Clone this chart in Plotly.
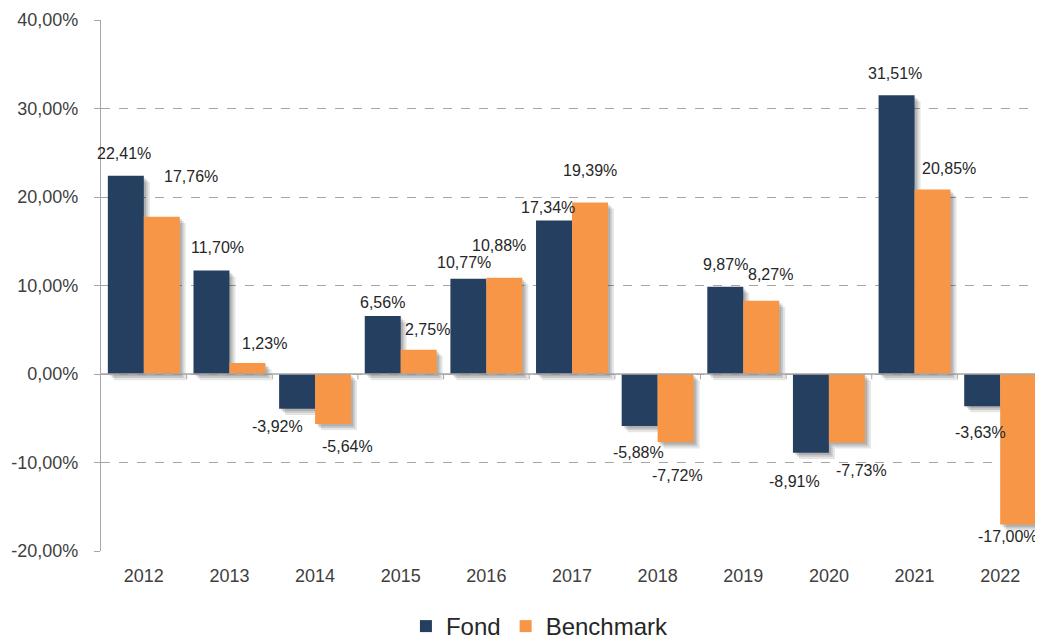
import plotly.graph_objects as go

years = ["2012", "2013", "2014", "2015", "2016", "2017", "2018", "2019", "2020", "2021", "2022"]
fond = [22.41, 11.70, -3.92, 6.56, 10.77, 17.34, -5.88, 9.87, -8.91, 31.51, -3.63]
bench = [17.76, 1.23, -5.64, 2.75, 10.88, 19.39, -7.72, 8.27, -7.73, 20.85, -17.00]
y_ticks = [-20, -10, 0, 10, 20, 30, 40]

# label pixel offsets (dx right, dy down relative to bar end)
fond_dx = [-2, 6, -20, 0, -4, -6, -1, 0, -16, -2, -2]
fond_dy = [-22, -23, 18, -13, -16, -13, 26, -22, 29, -22, 26]
bench_dx = [29, 17, 14, 9, -5, 0, 2, 9, 15, 16, -10]
bench_dy = [-40, -20, 23, -20, -32, -32, 33, -26, 28, -21, 12]

NAVY = "#243F60"
ORANGE = "#F79646"
FONT = "Liberation Sans, Arial, sans-serif"
xs = list(range(len(years)))
W = 0.42

def fmt(v):
    return f"{v:.2f}".replace(".", ",") + "%"

fig = go.Figure()

# soft shadows
for dxu, dyu, a in [(0.07, 0.7, 0.10), (0.045, 0.45, 0.12), (0.025, 0.25, 0.12)]:
    for vals, off in [(fond, -W), (bench, 0.0)]:
        fig.add_trace(go.Bar(
            x=xs, y=vals, base=[-dyu] * len(xs), offset=off + dxu, width=W,
            marker=dict(color=f"rgba(0,0,0,{a})", line=dict(width=0)),
            showlegend=False, hoverinfo="skip"))

fig.add_trace(go.Bar(x=xs, y=fond, name="Fond", offset=-W, width=W,
                     marker=dict(color=NAVY, line=dict(width=0))))
fig.add_trace(go.Bar(x=xs, y=bench, name="Benchmark", offset=0.0, width=W,
                     marker=dict(color=ORANGE, line=dict(width=0))))

annotations = []
for vals, cx, dxs, dys in [(fond, -W / 2, fond_dx, fond_dy), (bench, W / 2, bench_dx, bench_dy)]:
    for i, v in enumerate(vals):
        annotations.append(dict(
            x=i + cx, y=v, xref="x", yref="y", text=fmt(v), showarrow=False,
            xanchor="center", yanchor="middle", xshift=dxs[i], yshift=-dys[i],
            font=dict(family=FONT, size=16, color="#262626")))

shapes = []
for i in range(len(years) - 1):
    shapes.append(dict(type="line", xref="x", yref="y", x0=i + 0.5, x1=i + 0.5,
                       y0=0, y1=-0.6, line=dict(color="#A6A6A6", width=1)))
shapes.append(dict(type="line", xref="paper", yref="y", x0=0, x1=1, y0=0, y1=0,
                   line=dict(color="#A6A6A6", width=1.3), layer="above"))

fig.update_layout(
    width=1043, height=641,
    margin=dict(l=93, r=8, t=12, b=98, autoexpand=False),
    paper_bgcolor="white", plot_bgcolor="white",
    barmode="overlay",
    showlegend=True,
    legend=dict(orientation="h", xref="container", yref="container",
                x=0.51, xanchor="center", y=-0.008, yanchor="bottom",
                font=dict(family=FONT, size=24, color="#262626"),
                itemwidth=30, traceorder="normal"),
    annotations=annotations,
    shapes=shapes,
    xaxis=dict(range=[-0.5, len(years) - 0.5], tickvals=xs, ticktext=years,
               showgrid=False, zeroline=False, showline=False, ticks="",
               ticklabelstandoff=12,
               tickfont=dict(family=FONT, size=18, color="#404040")),
    yaxis=dict(range=[-20, 40], tickvals=y_ticks,
               ticktext=[fmt(t) for t in y_ticks],
               showgrid=True, gridcolor="#A6A6A6", griddash="dash", gridwidth=1,
               zeroline=False, showline=True, linecolor="#A6A6A6", linewidth=1.3,
               ticks="outside", ticklen=6, tickcolor="#A6A6A6",
               ticklabelstandoff=12,
               tickfont=dict(family=FONT, size=18, color="#404040")),
)

fig.write_html("out.html")
